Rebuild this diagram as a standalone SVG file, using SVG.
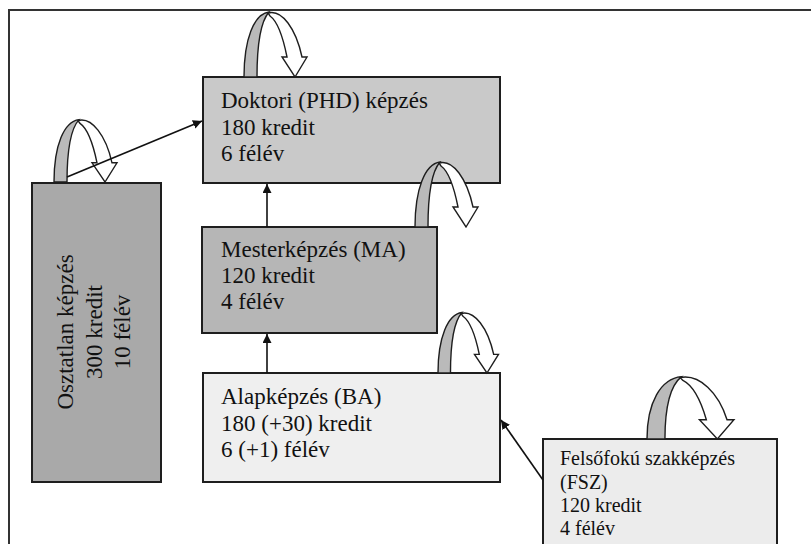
<svg xmlns="http://www.w3.org/2000/svg" width="811" height="544" viewBox="0 0 811 544">
<defs>
<style>
.box{stroke:#1e1e1e;stroke-width:2}
.t{font-family:"Liberation Serif","Times New Roman",serif;font-size:23px;fill:#111}
.ts{font-family:"Liberation Serif","Times New Roman",serif;font-size:20px;fill:#111}
.band{fill:#bababa;stroke:#1e1e1e;stroke-width:1.4;vector-effect:non-scaling-stroke}
.rib{fill:#ffffff;stroke:#1e1e1e;stroke-width:1.4;vector-effect:non-scaling-stroke}
.con{stroke:#111;stroke-width:1.6;fill:none;marker-end:url(#ah)}
</style>
<marker id="ah" viewBox="0 0 10 10" refX="10" refY="5" markerWidth="9" markerHeight="9" markerUnits="userSpaceOnUse" orient="auto">
<path d="M0,0 L10,5 L0,10 Z" fill="#111"/>
</marker>
<g id="loop">
<path class="rib" d="M24,-64 C38,-68 52,-48 58,-20 L63,-20 L51,0 L38,-20 L43,-20 C39,-40 33,-56 26,-61 Z"/>
<path class="band" d="M0,0 C0,-38 10,-63 25,-65 C18,-57 13,-38 13,0 Z"/>
</g>
</defs>
<rect x="9" y="10" width="900" height="600" fill="#fff" stroke="#333" stroke-width="2"/>

<g id="osztatlan">
<rect class="box" x="32" y="183" width="129" height="299" fill="#a9a9a9"/>
<g transform="rotate(-90 96 332)">
<text class="t" font-family="Liberation Serif, serif" x="96" y="309" text-anchor="middle">Osztatlan képzés</text>
<text class="t" font-family="Liberation Serif, serif" x="96" y="338" text-anchor="middle">300 kredit</text>
<text class="t" font-family="Liberation Serif, serif" x="96" y="366" text-anchor="middle">10 félév</text>
</g>
</g>

<g id="phd">
<rect class="box" x="203" y="77" width="297" height="106" fill="#c9c9c9"/>
<text class="t" font-family="Liberation Serif, serif" x="221" y="108">Doktori (PHD) képzés</text>
<text class="t" font-family="Liberation Serif, serif" x="221" y="135">180 kredit</text>
<text class="t" font-family="Liberation Serif, serif" x="221" y="161">6 félév</text>
</g>

<g id="ma">
<rect class="box" x="202" y="227" width="235" height="106" fill="#b6b6b6"/>
<text class="t" font-family="Liberation Serif, serif" x="221" y="257">Mesterképzés (MA)</text>
<text class="t" font-family="Liberation Serif, serif" x="221" y="283">120 kredit</text>
<text class="t" font-family="Liberation Serif, serif" x="221" y="309">4 félév</text>
</g>

<g id="ba">
<rect class="box" x="203" y="373" width="297" height="109" fill="#efefef"/>
<text class="t" font-family="Liberation Serif, serif" x="221" y="404">Alapképzés (BA)</text>
<text class="t" font-family="Liberation Serif, serif" x="221" y="431">180 (+30) kredit</text>
<text class="t" font-family="Liberation Serif, serif" x="221" y="457">6 (+1) félév</text>
</g>

<g id="fsz">
<rect class="box" x="543" y="439" width="234" height="120" fill="#ececec"/>
<text class="ts" font-family="Liberation Serif, serif" x="560" y="465">Felsőfokú szakképzés</text>
<text class="ts" font-family="Liberation Serif, serif" x="560" y="489">(FSZ)</text>
<text class="ts" font-family="Liberation Serif, serif" x="560" y="512">120 kredit</text>
<text class="ts" font-family="Liberation Serif, serif" x="560" y="535">4 félév</text>
</g>

<g id="loops">
<use href="#loop" transform="translate(244,77)"/>
<use href="#loop" transform="translate(415,227)"/>
<use href="#loop" transform="translate(54,182) scale(1,0.96)"/>
<use href="#loop" transform="translate(438,373) scale(0.96,0.93)"/>
<use href="#loop" transform="translate(647,439) scale(1.38,0.96)"/>
</g>

<g id="connectors">
<line class="con" x1="67" y1="177" x2="202" y2="121"/>
<line class="con" x1="267" y1="227" x2="267" y2="184"/>
<line class="con" x1="267" y1="373" x2="267" y2="334"/>
<line class="con" x1="543" y1="480" x2="501" y2="420"/>
</g>
</svg>
